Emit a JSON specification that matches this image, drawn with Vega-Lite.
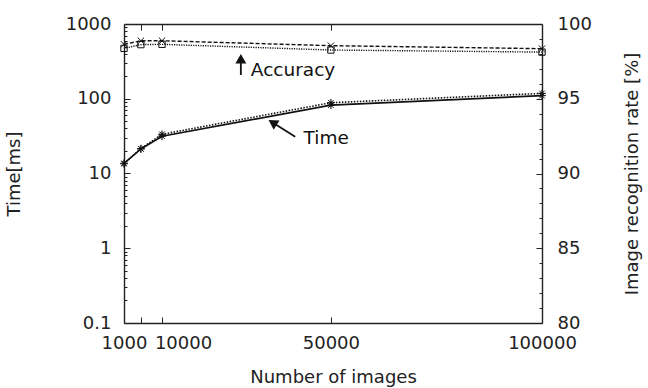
{
  "$schema": "https://vega.github.io/schema/vega-lite/v6.json",
  "width": 418,
  "height": 299,
  "autosize": "none",
  "padding": {"left": 124, "top": 24, "right": 106, "bottom": 65},
  "datasets": {
    "time": [
      {"series": "solid", "n": 1000, "v": 13.7},
      {"series": "solid", "n": 5000, "v": 21.3},
      {"series": "solid", "n": 10000, "v": 31.5},
      {"series": "solid", "n": 50000, "v": 82},
      {"series": "solid", "n": 100000, "v": 110},
      {"series": "dotted", "n": 1000, "v": 13.5},
      {"series": "dotted", "n": 5000, "v": 21.5},
      {"series": "dotted", "n": 10000, "v": 33.5},
      {"series": "dotted", "n": 50000, "v": 88.5},
      {"series": "dotted", "n": 100000, "v": 118}
    ],
    "acc": [
      {"series": "dashed", "n": 1000, "v": 98.64},
      {"series": "dashed", "n": 5000, "v": 98.88},
      {"series": "dashed", "n": 10000, "v": 98.88},
      {"series": "dashed", "n": 50000, "v": 98.55},
      {"series": "dashed", "n": 100000, "v": 98.35},
      {"series": "dotted", "n": 1000, "v": 98.37},
      {"series": "dotted", "n": 5000, "v": 98.62},
      {"series": "dotted", "n": 10000, "v": 98.64},
      {"series": "dotted", "n": 50000, "v": 98.26},
      {"series": "dotted", "n": 100000, "v": 98.12}
    ],
    "timeText": [{"label": "Time", "n": 43516, "v": 24.8}],
    "timeRule": [{"n": 41549, "v": 31.1, "n2": 36190, "v2": 48.1}],
    "timeHead": [{"n": 36190, "v": 48.1}],
    "accText": [{"label": "Accuracy", "n": 31044, "v": 96.54}],
    "accRule": [{"n": 28673, "v": 96.59, "n2": 28673, "v2": 97.68}],
    "accHead": [{"n": 28673, "v": 97.68}]
  },
  "layer": [
    {
      "encoding": {
        "x": {
          "field": "n", "type": "quantitative",
          "scale": {"domain": [1000, 100000], "nice": false, "zero": false},
          "axis": {
            "orient": "bottom",
            "title": "Number of images",
            "values": [1000, 5000, 10000, 50000, 100000],
            "format": "d",
            "labelExpr": "datum.value == 5000 ? '' : (datum.value == 1000 ? '1000\u00a0\u00a0\u00a0\u00a0\u00a0' : datum.label)",
            "labelOffset": {"condition": {"test": "datum.value == 10000", "value": 21}, "value": 0},
            "labelOverlap": false,
            "tickSize": -6,
            "labelPadding": 17,
            "titlePadding": 16
          }
        },
        "y": {
          "field": "v", "type": "quantitative",
          "scale": {"type": "log", "domain": [0.1, 1000], "nice": false},
          "axis": {
            "orient": "left",
            "title": "Time[ms]",
            "values": [0.1,0.2,0.3,0.4,0.5,0.6,0.7,0.8,0.9,1,2,3,4,5,6,7,8,9,10,20,30,40,50,60,70,80,90,100,200,300,400,500,600,700,800,900,1000],
            "format": "~g",
            "labelExpr": "indexof([0.1,1,10,100,1000], datum.value) >= 0 ? datum.label : ''",
            "labelOverlap": false,
            "tickSize": {"condition": {"test": "indexof([0.1,1,10,100,1000], datum.value) >= 0", "value": -6}, "value": -3},
            "labelPadding": 19,
            "titlePadding": 42
          }
        }
      },
      "layer": [
        {
          "data": {"name": "time"},
          "transform": [{"filter": "datum.series == 'solid'"}],
          "mark": {"type": "line", "color": "#111", "strokeWidth": 1.7}
        },
        {
          "data": {"name": "time"},
          "transform": [{"filter": "datum.series == 'dotted'"}],
          "mark": {"type": "line", "color": "#111", "strokeWidth": 1.6, "strokeDash": [1.5, 1.5]}
        },
        {
          "data": {"name": "time"},
          "mark": {"type": "point", "shape": "M-1,0L1,0M0,-1L0,1M-0.7,-0.7L0.7,0.7M-0.7,0.7L0.7,-0.7", "size": 60, "filled": false, "stroke": "#111", "strokeWidth": 1, "opacity": 1}
        },
        {
          "data": {"name": "timeRule"},
          "mark": {"type": "rule", "color": "#111", "strokeWidth": 1.8},
          "encoding": {"x2": {"field": "n2"}, "y2": {"field": "v2"}}
        },
        {
          "data": {"name": "timeHead"},
          "mark": {"type": "point", "shape": "triangle-up", "size": 120, "filled": true, "color": "#111", "opacity": 1, "angle": 302}
        },
        {
          "data": {"name": "timeText"},
          "mark": {"type": "text", "align": "left", "baseline": "alphabetic", "fontSize": 18.5, "color": "#111"},
          "encoding": {"text": {"field": "label"}}
        }
      ]
    },
    {
      "encoding": {
        "x": {
          "field": "n", "type": "quantitative",
          "axis": {
            "orient": "top",
            "title": null,
            "labels": false,
            "values": [5000, 10000, 50000],
            "tickSize": -6
          }
        },
        "y": {
          "field": "v", "type": "quantitative",
          "scale": {"domain": [80, 100], "nice": false, "zero": false},
          "axis": {
            "orient": "right",
            "title": "Image recognition rate [%]",
            "titleAngle": -90,
            "values": [80,81,82,83,84,85,86,87,88,89,90,91,92,93,94,95,96,97,98,99,100],
            "labelExpr": "indexof([80,85,90,95,100], datum.value) >= 0 ? datum.label : ''",
            "labelOverlap": false,
            "tickSize": {"condition": {"test": "indexof([80,85,90,95,100], datum.value) >= 0", "value": -6}, "value": -3},
            "labelPadding": 21,
            "titlePadding": 50
          }
        }
      },
      "layer": [
        {
          "data": {"name": "acc"},
          "transform": [{"filter": "datum.series == 'dashed'"}],
          "mark": {"type": "line", "color": "#111", "strokeWidth": 1.4, "strokeDash": [4, 2]}
        },
        {
          "data": {"name": "acc"},
          "transform": [{"filter": "datum.series == 'dotted'"}],
          "mark": {"type": "line", "color": "#111", "strokeWidth": 1.4, "strokeDash": [1.2, 1.2]}
        },
        {
          "data": {"name": "acc"},
          "transform": [{"filter": "datum.series == 'dashed'"}],
          "mark": {"type": "point", "shape": "M-1,-1L1,1M-1,1L1,-1", "size": 40, "filled": false, "stroke": "#111", "strokeWidth": 1, "opacity": 1}
        },
        {
          "data": {"name": "acc"},
          "transform": [{"filter": "datum.series == 'dotted'"}],
          "mark": {"type": "point", "shape": "square", "size": 40, "filled": false, "stroke": "#111", "strokeWidth": 1, "opacity": 1}
        },
        {
          "data": {"name": "accRule"},
          "mark": {"type": "rule", "color": "#111", "strokeWidth": 1.8},
          "encoding": {"x2": {"field": "n2"}, "y2": {"field": "v2"}}
        },
        {
          "data": {"name": "accHead"},
          "mark": {"type": "point", "shape": "triangle-up", "size": 120, "filled": true, "color": "#111", "opacity": 1, "angle": 0}
        },
        {
          "data": {"name": "accText"},
          "mark": {"type": "text", "align": "left", "baseline": "alphabetic", "fontSize": 18.5, "color": "#111"},
          "encoding": {"text": {"field": "label"}}
        }
      ]
    }
  ],
  "resolve": {"scale": {"y": "independent"}, "axis": {"x": "independent", "y": "independent"}},
  "config": {
    "font": "DejaVu Sans",
    "view": {"stroke": null},
    "axis": {
      "labelFontSize": 18,
      "titleFontSize": 18,
      "titleFontWeight": "normal",
      "labelColor": "#222",
      "titleColor": "#222",
      "domainColor": "#222",
      "tickColor": "#222",
      "domainWidth": 1.4,
      "tickWidth": 1,
      "grid": false,
      "labelOverlap": false,
      "labelBound": false,
      "labelFlush": false
    }
  }
}
